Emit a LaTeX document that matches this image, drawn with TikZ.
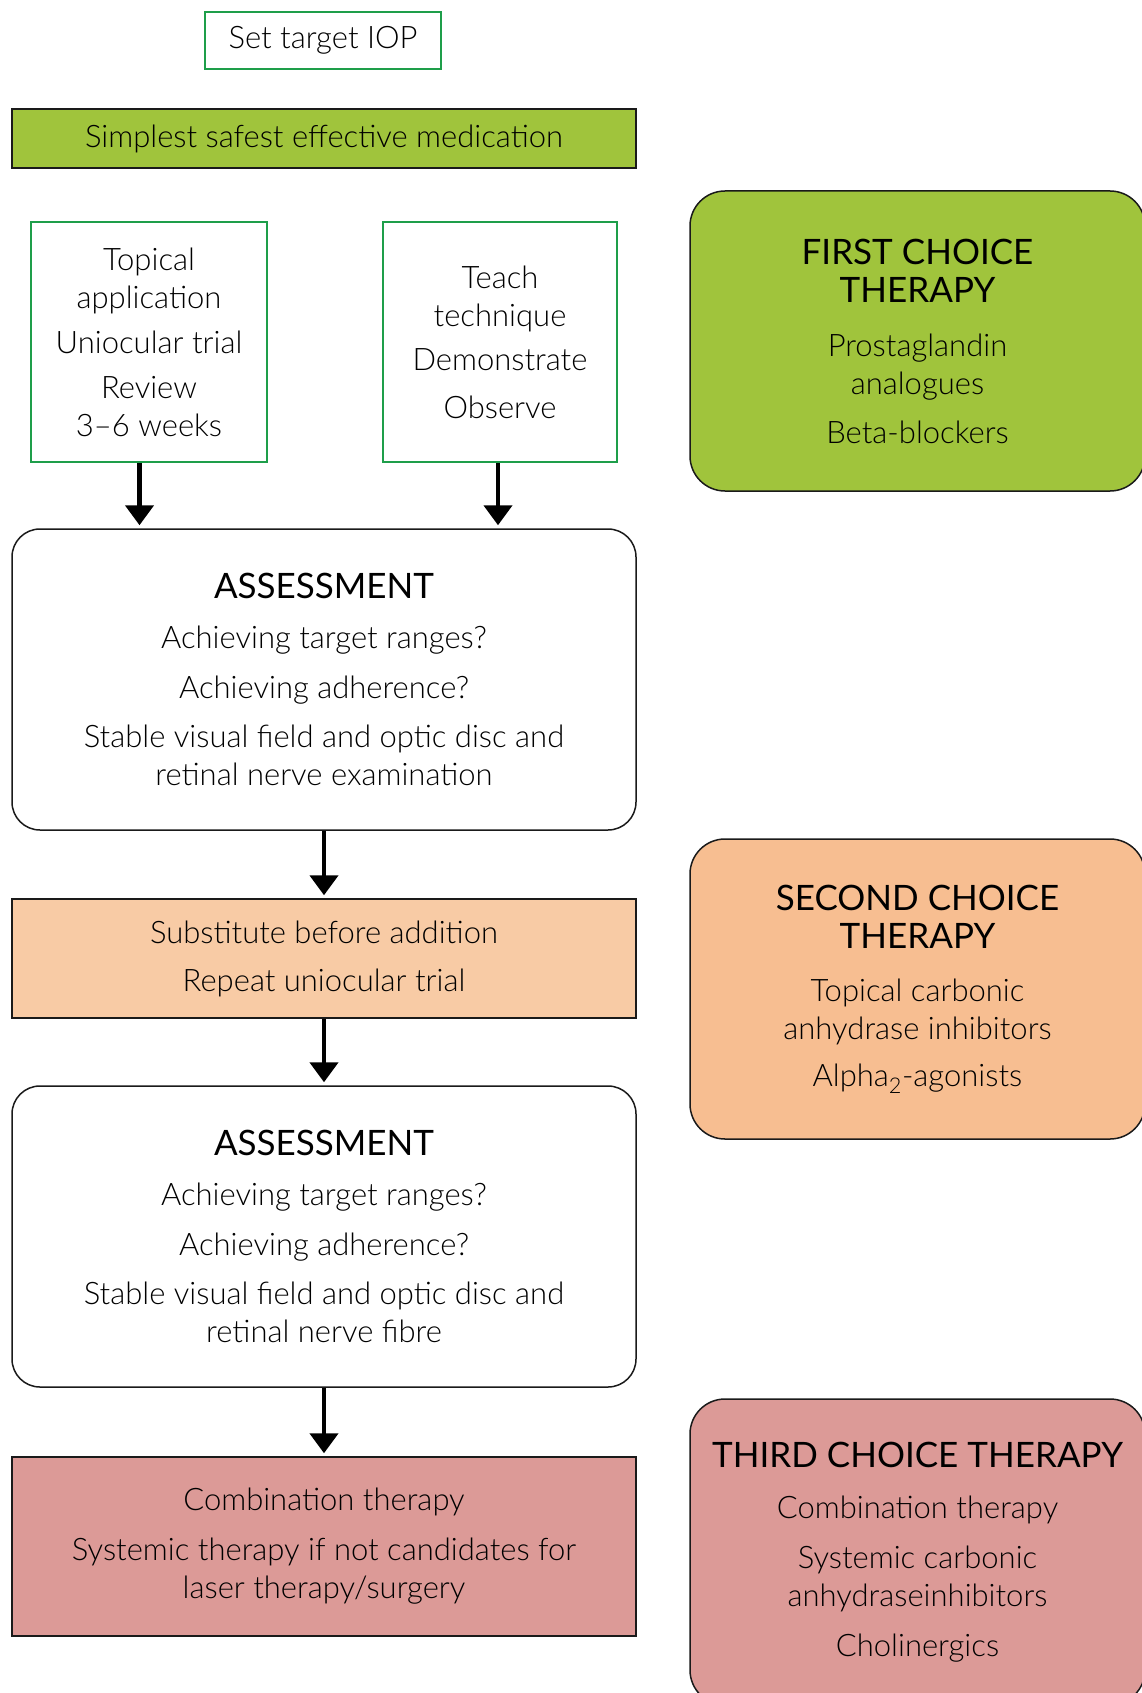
\documentclass[tikz,border=0pt]{standalone}
\usepackage{fontspec}
\IfFontExistsTF{Lato Light}{\setmainfont{Lato Light}}{\setmainfont{Lato}}
\newfontfamily\headfont{Lato}
\newcommand\hdfont{\headfont\fontsize{35}{38}\selectfont}
\usetikzlibrary{arrows.meta,calc}
\definecolor{lgreen}{HTML}{A0C43C}
\definecolor{gline}{HTML}{1E9E4A}
\definecolor{peach}{HTML}{F8CBA5}
\definecolor{peachdark}{HTML}{F7BE91}
\definecolor{rose}{HTML}{DC9A97}
\definecolor{bline}{HTML}{1A1A1A}
\begin{document}
\begin{tikzpicture}[x=1pt,y=-1pt,
  txt/.style={font=\fontsize{31}{38}\selectfont, align=center, text=black, inner sep=0pt},
  gbox/.style={txt, draw=gline, line width=1.5pt, fill=white},
  sqbox/.style={txt, draw=bline, line width=1.5pt},
  rbox/.style={txt, draw=bline, line width=1.5pt, rounded corners=28pt, fill=white},
  tbox/.style={txt, draw=bline, line width=1.5pt, rounded corners=35pt, minimum width=455pt},
  arr/.style={line width=4.5pt, draw=black, -{Triangle[width=28pt,length=20pt]}, shorten >=3pt}
]
\useasboundingbox (0,0) rectangle (1142,1693);
\clip (0,0) rectangle (1142,1693);
\fill[white] (0,0) rectangle (1142,1693);

% left column
\node[gbox, minimum width=236pt, minimum height=57pt] (iop) at (323,40.5) {Set target IOP};
\node[sqbox, fill=lgreen, minimum width=624pt, minimum height=59pt] (simple) at (324,138.5) {\raisebox{-3pt}{Simplest safest effective medication}};
\node[gbox, minimum width=236pt, minimum height=240pt] (topical) at (149,342)
  {Topical\\application\\[7pt]Uniocular trial\\[7pt]Review\\3--6 weeks};
\node[gbox, minimum width=234pt, minimum height=240pt] (teach) at (500,342)
  {Teach\\technique\\[6pt]Demonstrate\\[10pt]Observe};
\node[rbox, minimum width=624pt, minimum height=301pt] (assess1) at (324,679.5)
  {\hdfont ASSESSMENT\\[12pt]Achieving target ranges?\\[12pt]Achieving adherence?\\[11pt]Stable visual field and optic disc and\\retinal nerve examination};
\node[sqbox, fill=peach, minimum width=624pt, minimum height=119pt] (subst) at (324,958.5)
  {Substitute before addition\\[10pt]Repeat uniocular trial};
\node[rbox, minimum width=624pt, minimum height=301pt] (assess2) at (324,1236.5)
  {\hdfont ASSESSMENT\\[12pt]Achieving target ranges?\\[12pt]Achieving adherence?\\[11pt]Stable visual field and optic disc and\\retinal nerve fibre};
\node[sqbox, fill=rose, minimum width=624pt, minimum height=179pt] (combo) at (324,1546.5)
  {Combination therapy\\[12pt]Systemic therapy if not candidates for\\laser therapy/surgery};

% right column
\node[tbox, fill=lgreen, minimum height=300pt] (first) at (917.5,341)
  {\hdfont FIRST CHOICE\\\hdfont THERAPY\\[16pt]Prostaglandin\\analogues\\[11pt]Beta-blockers};
\node[tbox, fill=peachdark, minimum height=300pt] (second) at (917.5,989)
  {\hdfont SECOND CHOICE\\\hdfont THERAPY\\[15pt]Topical carbonic\\anhydrase inhibitors\\[9pt]Alpha\textsubscript{2}-agonists};
\node[tbox, fill=rose, minimum height=306pt] (third) at (917.5,1552)
  {\hdfont THIRD CHOICE THERAPY\\[13pt]Combination therapy\\[12pt]Systemic carbonic\\anhydraseinhibitors\\[12pt]Cholinergics};

% arrows
\draw[arr] ($(topical.south)+(-9.5,0)$) -- ($(topical.south |- assess1.north)+(-9.5,0)$);
\draw[arr] ($(teach.south)+(-2,0)$) -- ($(teach.south |- assess1.north)+(-2,0)$);
\draw[arr] (assess1.south) -- (subst.north);
\draw[arr] (subst.south) -- (assess2.north);
\draw[arr] (assess2.south) -- (combo.north);
\end{tikzpicture}
\end{document}
